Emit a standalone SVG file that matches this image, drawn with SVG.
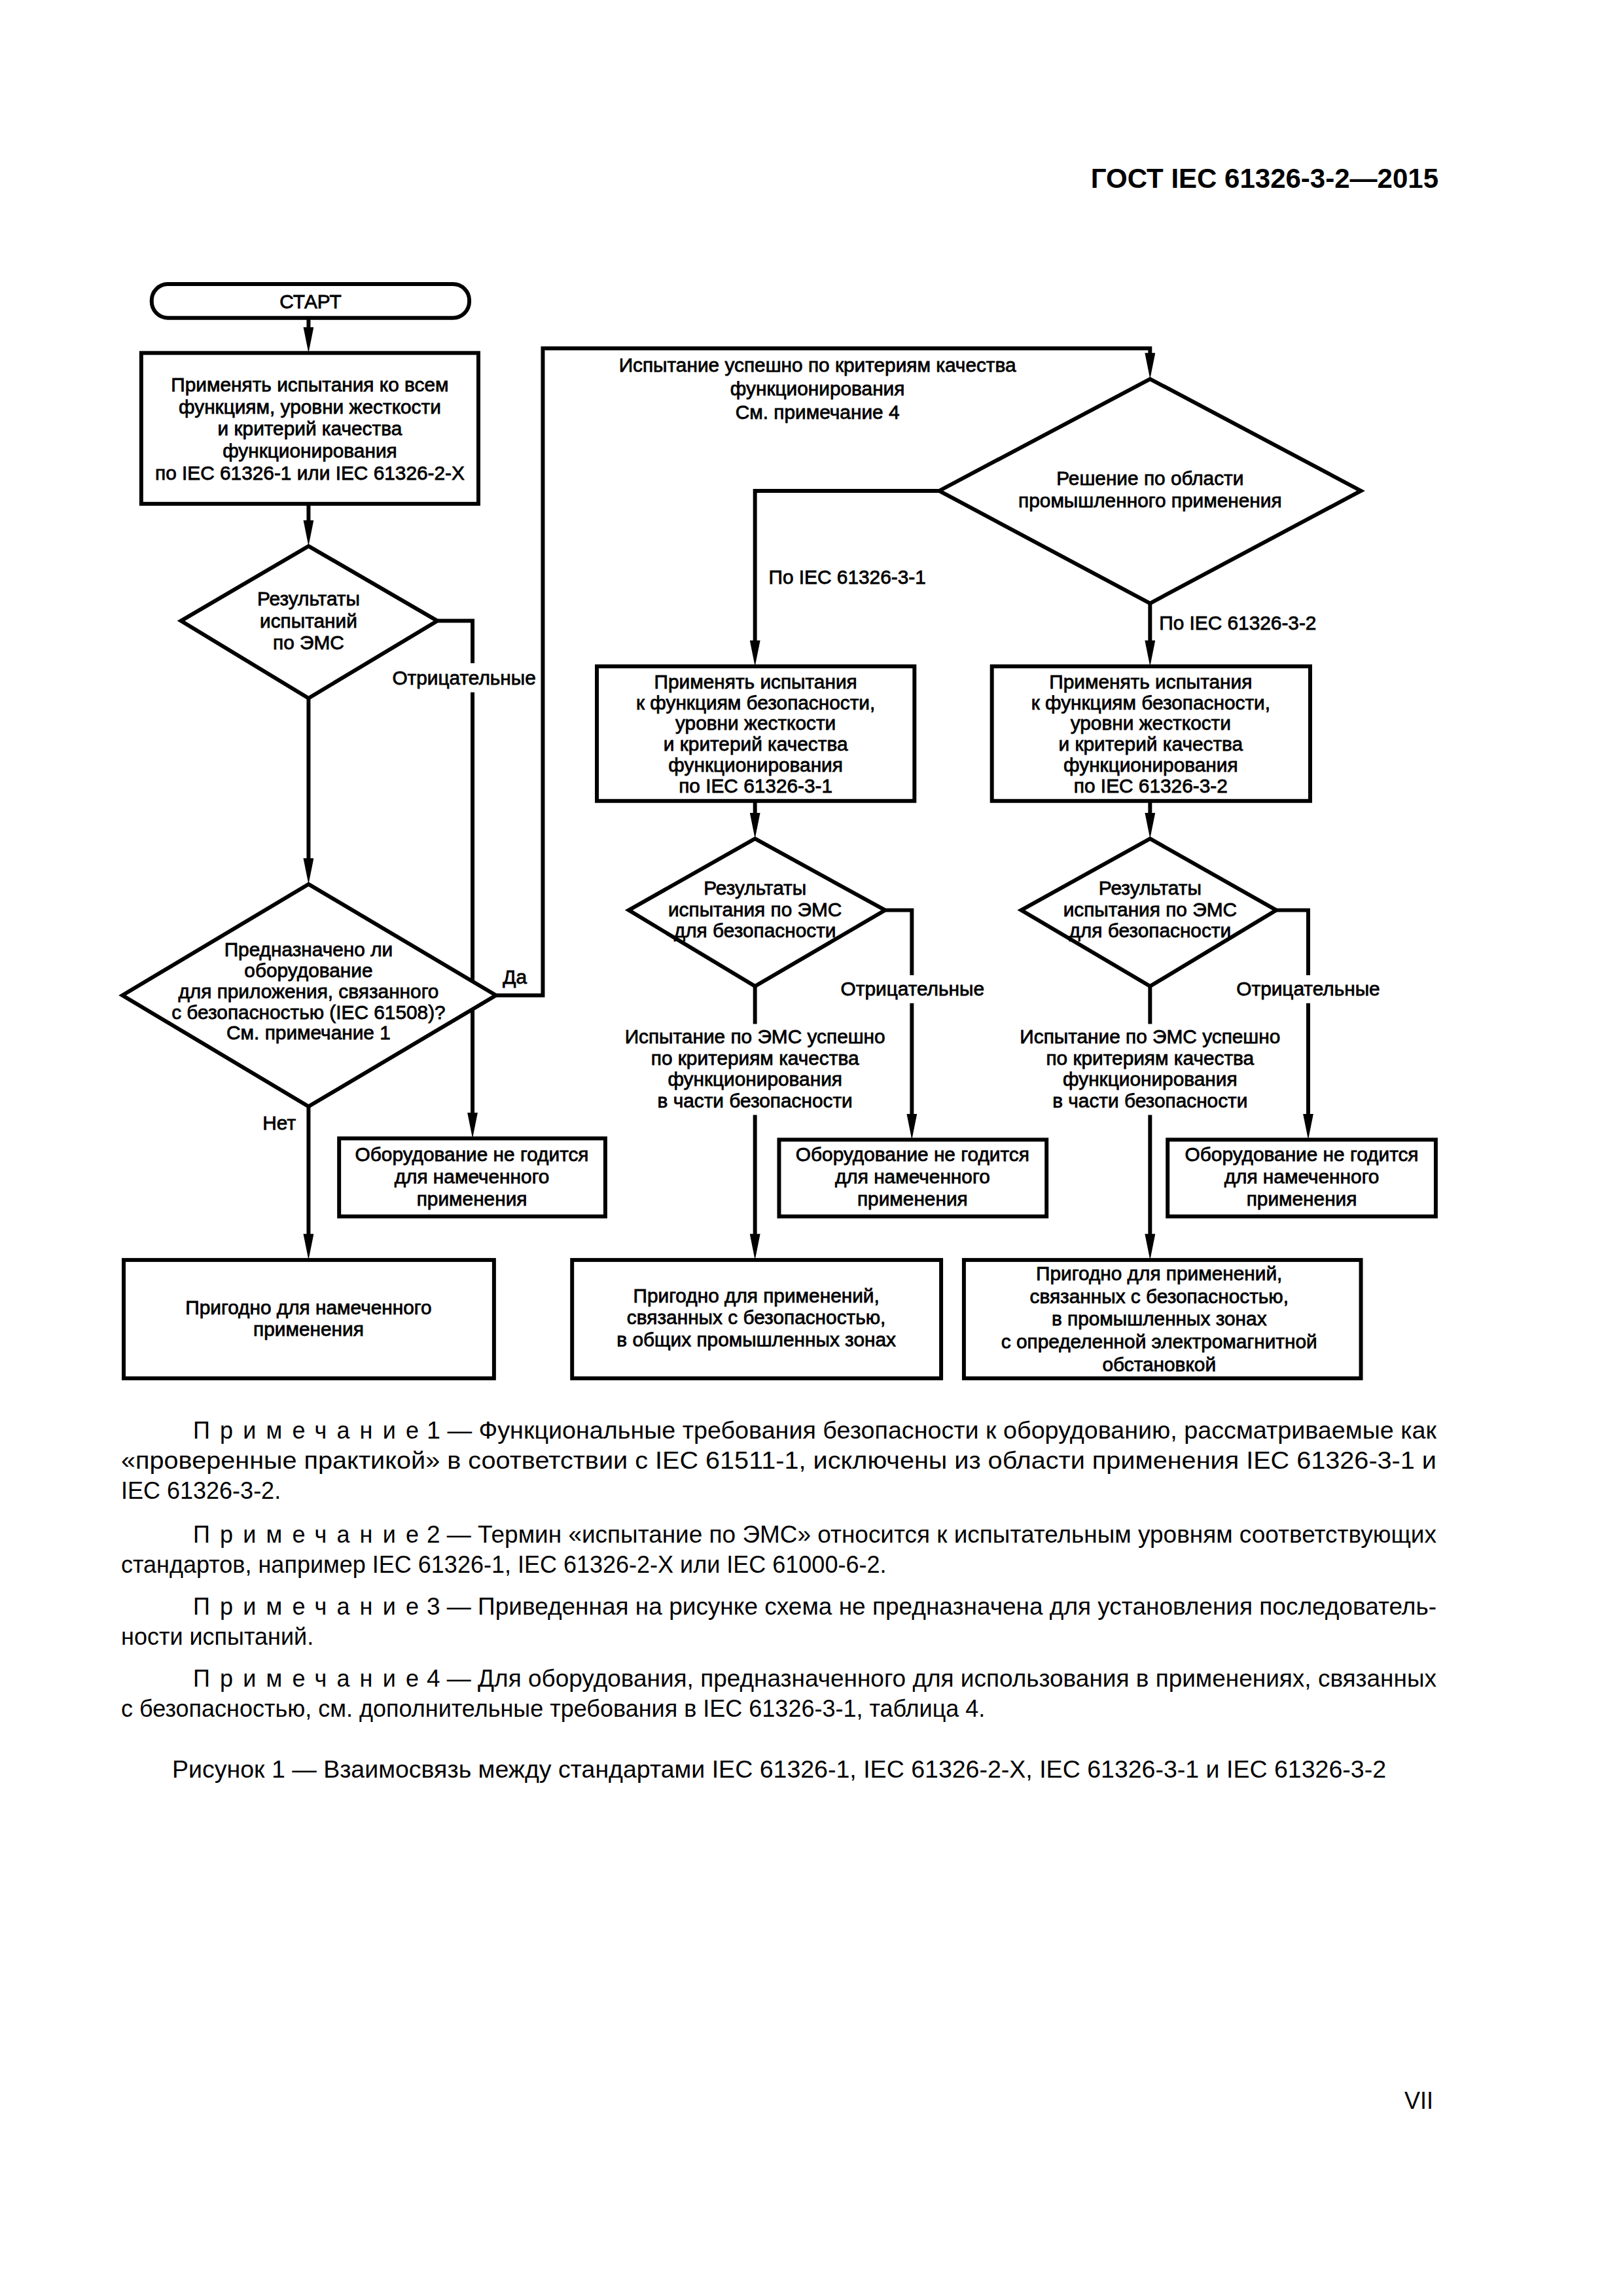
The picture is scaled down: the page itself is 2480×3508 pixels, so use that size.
<svg xmlns="http://www.w3.org/2000/svg" width="2480" height="3508" viewBox="0 0 2480 3508">
<style>
.bg{fill:#fff}
.sh{fill:#fff;stroke:#000;stroke-width:6}
.ln{fill:none;stroke:#000;stroke-width:6}
.t{font-family:"Liberation Sans",Arial,sans-serif;font-size:30px;text-anchor:middle;fill:#000;stroke:#000;stroke-width:0.8}
.tl{font-family:"Liberation Sans",Arial,sans-serif;font-size:30px;fill:#000;stroke:#000;stroke-width:0.8}
.n{font-family:"Liberation Sans",Arial,sans-serif;font-size:36px;fill:#000}
.h{font-family:"Liberation Sans",Arial,sans-serif;font-size:42px;font-weight:bold;fill:#000;text-anchor:end}
</style>
<defs>
<marker id="ar" markerUnits="userSpaceOnUse" viewBox="0 0 40 16" markerWidth="40" markerHeight="16" refX="20" refY="8" orient="auto">
<path d="M0,0 L40,8 L0,16 z" fill="#000"/>
</marker>
</defs>
<rect class="bg" x="0" y="0" width="2480" height="3508"/>
<text class="h" x="2198" y="287">ГОСТ IEC 61326-3-2—2015</text>

<g id="flowchart" transform="matrix(0.9945 0 0 0.9934 1.04 2.86)">
<g id="connectors">
<path class="ln" d="M473,486 V520" marker-end="url(#ar)"/>
<path class="ln" d="M473,772 V817" marker-end="url(#ar)"/>
<path class="ln" d="M473,1071 V1337" marker-end="url(#ar)"/>
<path class="ln" d="M671,952 H725 V1017"/>
<path class="ln" d="M725,1062 V1728" marker-end="url(#ar)"/>
<path class="ln" d="M761,1528 H833 V533 H1766 V560" marker-end="url(#ar)"/>
<path class="ln" d="M473,1699 V1915" marker-end="url(#ar)"/>
<path class="ln" d="M1442,752 H1159 V1002" marker-end="url(#ar)"/>
<path class="ln" d="M1766,925 V1002" marker-end="url(#ar)"/>
<path class="ln" d="M1159,1229 V1267" marker-end="url(#ar)"/>
<path class="ln" d="M1766,1229 V1267" marker-end="url(#ar)"/>
<path class="ln" d="M1359,1397 H1400 V1497"/>
<path class="ln" d="M1400,1540 V1730" marker-end="url(#ar)"/>
<path class="ln" d="M1159,1514 V1572"/>
<path class="ln" d="M1159,1712 V1915" marker-end="url(#ar)"/>
<path class="ln" d="M1960,1397 H2009 V1497"/>
<path class="ln" d="M2009,1540 V1730" marker-end="url(#ar)"/>
<path class="ln" d="M1766,1514 V1572"/>
<path class="ln" d="M1766,1712 V1915" marker-end="url(#ar)"/>
<text class="t" x="712" y="1050">Отрицательные</text>
<text class="t" x="790" y="1510">Да</text>
<text class="t" x="428" y="1735">Нет</text>
<text class="t" x="1255" y="569">Испытание успешно по критериям качества</text>
<text class="t" x="1255" y="605">функционирования</text>
<text class="t" x="1255" y="641">См. примечание 4</text>
<text class="tl" x="1180" y="895">По IEC 61326-3-1</text>
<text class="tl" x="1780" y="966">По IEC 61326-3-2</text>
<text class="t" x="1401" y="1528">Отрицательные</text>
<text class="t" x="2009" y="1528">Отрицательные</text>
<text class="t" x="1159" y="1602">Испытание по ЭМС успешно</text>
<text class="t" x="1159" y="1635">по критериям качества</text>
<text class="t" x="1159" y="1667">функционирования</text>
<text class="t" x="1159" y="1700">в части безопасности</text>
<text class="t" x="1766" y="1602">Испытание по ЭМС успешно</text>
<text class="t" x="1766" y="1635">по критериям качества</text>
<text class="t" x="1766" y="1667">функционирования</text>
<text class="t" x="1766" y="1700">в части безопасности</text>
</g>

<g id="start">
<rect class="sh" x="232" y="434" width="488" height="52" rx="25"/>
<text class="t" x="476" y="471">СТАРТ</text>
</g>
<g id="box1">
<rect class="sh" x="216" y="540" width="518" height="232"/>
<text class="t" x="475" y="599">Применять испытания ко всем</text>
<text class="t" x="475" y="633">функциям, уровни жесткости</text>
<text class="t" x="475" y="667">и критерий качества</text>
<text class="t" x="475" y="701">функционирования</text>
<text class="t" x="475" y="735">по IEC 61326-1 или IEC 61326-2-X</text>
</g>
<g id="dec1">
<polygon class="sh" points="473,837 671,952 473,1071 277,952"/>
<text class="t" x="473" y="928">Результаты</text>
<text class="t" x="473" y="962">испытаний</text>
<text class="t" x="473" y="996">по ЭМС</text>
</g>
<g id="dec2">
<polygon class="sh" points="473,1357 761,1528 473,1699 187,1528"/>
<text class="t" x="473" y="1468">Предназначено ли</text>
<text class="t" x="473" y="1500">оборудование</text>
<text class="t" x="473" y="1532">для приложения, связанного</text>
<text class="t" x="473" y="1564">с безопасностью (IEC 61508)?</text>
<text class="t" x="473" y="1596">См. примечание 1</text>
</g>
<g id="unfit1">
<rect class="sh" x="520" y="1748" width="409" height="120"/>
<text class="t" x="724" y="1783">Оборудование не годится</text>
<text class="t" x="724" y="1817">для намеченного</text>
<text class="t" x="724" y="1851">применения</text>
</g>
<g id="fit1">
<rect class="sh" x="189" y="1935" width="569" height="182"/>
<text class="t" x="473" y="2018">Пригодно для намеченного</text>
<text class="t" x="473" y="2052">применения</text>
</g>
<g id="dec3">
<polygon class="sh" points="1766,580 2090,752 1766,925 1442,752"/>
<text class="t" x="1766" y="743">Решение по области</text>
<text class="t" x="1766" y="777">промышленного применения</text>
</g>
<g id="boxL3">
<rect class="sh" x="916" y="1022" width="488" height="207"/>
<text class="t" x="1160" y="1056">Применять испытания</text>
<text class="t" x="1160" y="1088">к функциям безопасности,</text>
<text class="t" x="1160" y="1120">уровни жесткости</text>
<text class="t" x="1160" y="1152">и критерий качества</text>
<text class="t" x="1160" y="1184">функционирования</text>
<text class="t" x="1160" y="1216">по IEC 61326-3-1</text>
</g>
<g id="boxR3">
<rect class="sh" x="1523" y="1022" width="489" height="207"/>
<text class="t" x="1767" y="1056">Применять испытания</text>
<text class="t" x="1767" y="1088">к функциям безопасности,</text>
<text class="t" x="1767" y="1120">уровни жесткости</text>
<text class="t" x="1767" y="1152">и критерий качества</text>
<text class="t" x="1767" y="1184">функционирования</text>
<text class="t" x="1767" y="1216">по IEC 61326-3-2</text>
</g>
<g id="decL4">
<polygon class="sh" points="1159,1287 1359,1397 1159,1514 965,1397"/>
<text class="t" x="1159" y="1373">Результаты</text>
<text class="t" x="1159" y="1406">испытания по ЭМС</text>
<text class="t" x="1159" y="1439">для безопасности</text>
</g>
<g id="decR4">
<polygon class="sh" points="1766,1287 1960,1397 1766,1514 1568,1397"/>
<text class="t" x="1766" y="1373">Результаты</text>
<text class="t" x="1766" y="1406">испытания по ЭМС</text>
<text class="t" x="1766" y="1439">для безопасности</text>
</g>
<g id="unfitL">
<rect class="sh" x="1196" y="1750" width="411" height="118"/>
<text class="t" x="1401" y="1783">Оборудование не годится</text>
<text class="t" x="1401" y="1817">для намеченного</text>
<text class="t" x="1401" y="1851">применения</text>
</g>
<g id="unfitR">
<rect class="sh" x="1793" y="1750" width="412" height="118"/>
<text class="t" x="1999" y="1783">Оборудование не годится</text>
<text class="t" x="1999" y="1817">для намеченного</text>
<text class="t" x="1999" y="1851">применения</text>
</g>
<g id="fitL">
<rect class="sh" x="878" y="1935" width="567" height="182"/>
<text class="t" x="1161" y="2000">Пригодно для применений,</text>
<text class="t" x="1161" y="2034">связанных с безопасностью,</text>
<text class="t" x="1161" y="2068">в общих промышленных зонах</text>
</g>
<g id="fitR">
<rect class="sh" x="1480" y="1935" width="610" height="182"/>
<text class="t" x="1780" y="1966">Пригодно для применений,</text>
<text class="t" x="1780" y="2001">связанных с безопасностью,</text>
<text class="t" x="1780" y="2036">в промышленных зонах</text>
<text class="t" x="1780" y="2071">с определенной электромагнитной</text>
<text class="t" x="1780" y="2106">обстановкой</text>
</g>
</g>

<g id="notes">
<text class="n" x="295" y="2198" textLength="345" lengthAdjust="spacing">Примечание</text>
<text class="n" x="652" y="2198" textLength="1543" lengthAdjust="spacingAndGlyphs">1 — Функциональные требования безопасности к оборудованию, рассматриваемые как</text>
<text class="n" x="185" y="2244" textLength="2010" lengthAdjust="spacingAndGlyphs">«проверенные практикой» в соответствии с IEC 61511-1, исключены из области применения IEC 61326-3-1 и</text>
<text class="n" x="185" y="2290">IEC 61326-3-2.</text>
<text class="n" x="295" y="2357" textLength="345" lengthAdjust="spacing">Примечание</text>
<text class="n" x="652" y="2357" textLength="1543" lengthAdjust="spacingAndGlyphs">2 — Термин «испытание по ЭМС» относится к испытательным уровням соответствующих</text>
<text class="n" x="185" y="2403">стандартов, например IEC 61326-1, IEC 61326-2-X или IEC 61000-6-2.</text>
<text class="n" x="295" y="2467" textLength="345" lengthAdjust="spacing">Примечание</text>
<text class="n" x="652" y="2467" textLength="1543" lengthAdjust="spacingAndGlyphs">3 — Приведенная на рисунке схема не предназначена для установления последователь-</text>
<text class="n" x="185" y="2513">ности испытаний.</text>
<text class="n" x="295" y="2577" textLength="345" lengthAdjust="spacing">Примечание</text>
<text class="n" x="652" y="2577" textLength="1543" lengthAdjust="spacingAndGlyphs">4 — Для оборудования, предназначенного для использования в применениях, связанных</text>
<text class="n" x="185" y="2623">с безопасностью, см. дополнительные требования в IEC 61326-3-1, таблица 4.</text>
<text class="n" x="263" y="2716" textLength="1855" lengthAdjust="spacingAndGlyphs">Рисунок  1 — Взаимосвязь между стандартами IEC 61326-1, IEC 61326-2-X, IEC 61326-3-1 и IEC 61326-3-2</text>
<text class="n" x="2190" y="3222" text-anchor="end">VII</text>
</g>
</svg>
